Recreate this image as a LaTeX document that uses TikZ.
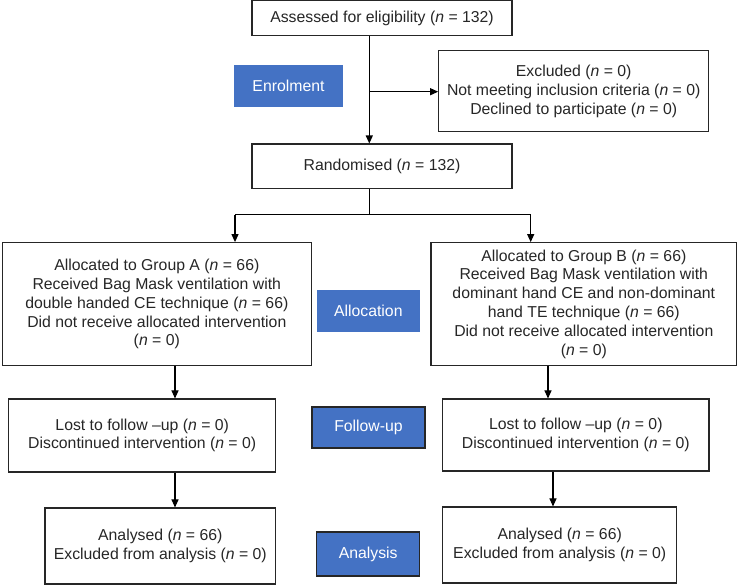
\documentclass[tikz,border=0pt]{standalone}
\usepackage{fontspec}
\setmainfont{Liberation Sans}
\usetikzlibrary{arrows.meta}
\definecolor{stageblue}{RGB}{68,114,196}
\tikzstyle{box} = [draw=black!85, line width=1.1pt, inner sep=0pt, align=center, text=black!85]
\tikzstyle{stage} = [fill=stageblue, text=white, inner sep=0pt]
\tikzstyle{stageframe} = [stage, draw=black!85, line width=1.1pt]
\tikzstyle{flow} = [line width=1.1pt, -{Triangle[length=8pt,width=7pt]}]

\begin{document}
\begin{tikzpicture}[x=1pt, y=-1pt, font=\fontsize{15.8}{18.8}\selectfont]
    \useasboundingbox (0,0) rectangle (740,585);
    % boxes of the flow
    \draw (382,18.3) node[box, minimum width=260, minimum height=34.7] (assess) {Assessed for eligibility (\textit{n} = 132)};
    \draw (573.7,91.2) node[box, minimum width=270, minimum height=81] (excl) {Excluded (\textit{n} = 0)\\Not meeting inclusion criteria (\textit{n} = 0)\\Declined to participate (\textit{n} = 0)};
    \draw (382,166.3) node[box, minimum width=260, minimum height=44.5] (rand) {Randomised (\textit{n} = 132)};
    \draw (156.8,304.3) node[box, minimum width=309, minimum height=123.3] (grpA) {Allocated to Group A (\textit{n} = 66)\\Received Bag Mask ventilation with\\double handed CE technique (\textit{n} = 66)\\Did not receive allocated intervention\\(\textit{n} = 0)};
    \draw (583.8,304) node[box, minimum width=305.7, minimum height=122.7] (grpB) {Allocated to Group B (\textit{n} = 66)\\Received Bag Mask ventilation with\\dominant hand CE and non-dominant\\hand TE technique (\textit{n} = 66)\\Did not receive allocated intervention\\(\textit{n} = 0)};
    \draw (142.2,435.5) node[box, minimum width=267, minimum height=73] (fuA) {Lost to follow –up (\textit{n} = 0)\\Discontinued intervention (\textit{n} = 0)};
    \draw (575.8,435) node[box, minimum width=266.3, minimum height=72] (fuB) {Lost to follow –up (\textit{n} = 0)\\Discontinued intervention (\textit{n} = 0)};
    \draw (160.3,546) node[box, minimum width=230.7, minimum height=76] (anA) {Analysed (\textit{n} = 66)\\Excluded from analysis (\textit{n} = 0)};
    \draw (559.7,545) node[box, minimum width=234, minimum height=76] (anB) {Analysed (\textit{n} = 66)\\Excluded from analysis (\textit{n} = 0)};
    % stage labels
    \draw (288.5,86) node[stage, minimum width=109, minimum height=42] (enrol) {Enrolment};
    \draw (368.3,311) node[stage, minimum width=103.3, minimum height=42] (alloc) {Allocation};
    \draw (368.5,427.5) node[stageframe, minimum width=113, minimum height=41] (follow) {Follow-up};
    \draw (368.2,554) node[stageframe, minimum width=103, minimum height=44] (analysis) {Analysis};
    % connectors
    \coordinate (trunk) at (369.3,91.7);
    \coordinate (split) at (369.3,214.7);
    \coordinate (toA) at (235,214.7);
    \coordinate (toB) at (530.7,214.7);
    \coordinate (colA) at (175,0);
    \coordinate (colB) at (548,0);
    \coordinate (colC) at (553,0);
    \draw[flow] (assess.south -| trunk) -- (rand.north -| trunk);
    \draw[flow] (trunk) -- (trunk -| excl.west);
    \draw[line width=1.1pt] (rand.south -| split) -- (split);
    \draw[line width=1.1pt] (toA) -- (toB);
    \draw[flow] (toA) -- (toA |- grpA.north);
    \draw[flow] (toB) -- (toB |- grpB.north);
    \draw[flow] (grpA.south -| colA) -- (fuA.north -| colA);
    \draw[flow] (fuA.south -| colA) -- (anA.north -| colA);
    \draw[flow] (grpB.south -| colB) -- (fuB.north -| colB);
    \draw[flow] (fuB.south -| colC) -- (anB.north -| colC);
\end{tikzpicture}
\end{document}
